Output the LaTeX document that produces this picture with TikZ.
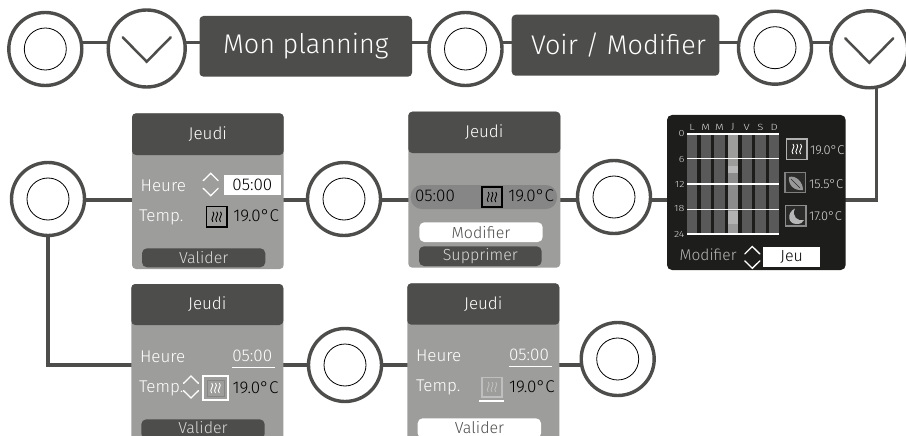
\documentclass[tikz,border=0pt]{standalone}
\usepackage{fontspec}
\setmainfont{Fira Sans Light}
\usetikzlibrary{backgrounds,calc}
\definecolor{dk}{HTML}{4D4D4B}
\definecolor{pn}{HTML}{9D9D9C}
\definecolor{bd}{HTML}{868686}
\definecolor{bk}{HTML}{1D1D1B}
\definecolor{br}{HTML}{595959}
\newcommand{\fs}[1]{\fontsize{#1}{#1}\selectfont}
% box by corners: style, name, x1,y1,x2,y2, text
\newcommand{\cbox}[7]{%
  \pgfmathsetmacro{\cw}{#5-#3}\pgfmathsetmacro{\ch}{#6-#4}%
  \pgfmathsetmacro{\cx}{(#3+#5)/2}\pgfmathsetmacro{\cy}{(#4+#6)/2}%
  \node[#1,minimum width=\cw pt,minimum height=\ch pt] (#2) at (\cx,\cy) {#7};}
\newcommand{\upchev}[3]{\draw[chev,#3] (#1-7.5,#2+3.7) -- (#1,#2-3.7) -- (#1+7.5,#2+3.7);}
\newcommand{\dnchev}[3]{\draw[chev,#3] (#1-7.5,#2-3.7) -- (#1,#2+3.7) -- (#1+7.5,#2-3.7);}
\newcommand{\waves}[3]{\foreach \dx in {-3.8,0,3.8}{\draw[#3,line width=.9pt] (#1+\dx,#2-5) .. controls (#1+\dx+3.4,#2-2) and (#1+\dx-3.4,#2+2) .. (#1+\dx,#2+5);}}
\tikzset{
  x=1pt,y=-1pt,
  every node/.style={inner sep=0pt,outer sep=0pt},
  ring/.style={circle,draw=dk,line width=3.4pt,fill=white,minimum size=73pt},
  ringb/.style={ring,minimum size=77pt},
  rail/.style={draw=dk,line width=3.2pt},
  core/.style={draw=black,line width=.8pt},
  hdr/.style={fill=dk,rounded corners=4pt,text=white},
  panel/.style={fill=pn,rounded corners=4pt},
  blackp/.style={fill=bk,rounded corners=5pt},
  btnd/.style={fill=dk,rounded corners=5pt,text=white!85!black},
  btnw/.style={fill=white,rounded corners=5pt,text=dk},
  wt/.style={text=white,anchor=mid west,yshift=-2.5pt},
  bt/.style={text=black,anchor=mid west,yshift=-2.5pt},
  chev/.style={line width=1.3pt,white,line cap=round,line join=miter},
  icon/.style={draw=black,line width=1.5pt},
  grid/.style={fill=br},
  hline/.style={white,line width=1.3pt},
  tiny/.style={text=white!85!black},
}
\begin{document}
\begin{tikzpicture}
\clip (0,0) rectangle (906,436);
\useasboundingbox (0,0) rectangle (906,436);
% rails
\coordinate (rT) at (0,42.7);
\coordinate (rM) at (0,200);
\coordinate (rB) at (0,365);
% top row
\node[ring] (c1) at (45.3,49) {};
\node[ringb] (c2) at (146.7,48.5) {};
\cbox{hdr,font=\fs{27}}{b1}{199.5}{16}{412}{76.7}{Mon planning}
\node[ring] (c3) at (465.5,49) {};
\cbox{hdr,font=\fs{27}}{b2}{511.7}{14.7}{719.3}{75.7}{\hspace*{6pt}Voir / Modifier}
\node[ring] (c4) at (775,47.7) {};
\node[ringb] (c5) at (869.3,49.3) {};
\draw[core] (c1) circle (21);
\draw[core] (c3) circle (21);
\draw[core] (c4) circle (21);
\draw[dk,line width=2.5pt,line cap=round] (122.7,37.3) -- (146.7,61.7) -- (170.7,37.3);
\draw[dk,line width=2.5pt,line cap=round] (845.3,38.3) -- (869.3,62.7) -- (893.3,38.3);
% middle circles
\node[ring] (c6) at (48,199) {};
\node[ring] (c7) at (344,199) {};
\node[ring] (c8) at (614,197) {};
\draw[core] (c6) circle (21);
\draw[core] (c7) circle (21);
\draw[core] (c8) circle (21);
\node[ring] (c9) at (345,365) {};
\node[ring] (c10) at (617.7,359) {};
\draw[core] (c9) circle (21);
\draw[core] (c10) circle (21);
% panel A
\cbox{panel}{pA}{132}{113.3}{283.7}{269}{}
\cbox{hdr,font=\fs{17}}{hA}{132}{113.3}{283.7}{155}{Jeudi}
\node[wt,font=\fs{17}] (tA1) at (140.7,186) {Heure};
\node[wt,font=\fs{17}] (tA2) at (139,216.7) {Temp.};
\upchev{210.7}{177}{}
\dnchev{210.7}{192}{}
\cbox{fill=white,font=\fs{17}}{vA}{224}{175}{280.7}{195}{05:00}
\cbox{icon}{iA}{206.5}{206.5}{227}{227}{}
\waves{216.7}{216.7}{black}
\node[bt,font=\fs{17}] (dA) at (233.3,216) {19.0°C};
\cbox{btnd,font=\fs{16}}{vlA}{142}{248.3}{265.3}{267.3}{Valider}
% panel B
\cbox{panel}{pB}{408.3}{111.7}{560.3}{267.7}{}
\cbox{hdr,font=\fs{17}}{hB}{408.3}{111.7}{560.3}{153}{Jeudi}
\cbox{fill=bd,rounded corners=11pt}{bandB}{410.7}{185}{557}{209}{}
\node[bt,font=\fs{17}] (tB1) at (415,196.7) {05:00};
\cbox{icon}{iB}{482}{187}{502}{207}{}
\waves{492}{197}{black}
\node[bt,font=\fs{17}] (dB) at (508.3,196.7) {19.0°C};
\cbox{btnw,font=\fs{16}}{mB}{419.3}{222.3}{542.7}{242}{Modifier}
\cbox{btnd,font=\fs{16}}{sB}{419}{246.3}{541.7}{266}{Supprimer}
% panel C
\cbox{panel}{pC}{131.3}{284}{283.3}{445}{}
\cbox{hdr,font=\fs{17}}{hC}{131.3}{284}{283.3}{325}{Jeudi}
\node[wt,font=\fs{17}] (tC1) at (140,357.3) {Heure};
\node[wt,font=\fs{17}] (tC2) at (139,387) {Temp.};
\node[wt,font=\fs{17}] (vC) at (232.3,356) {05:00};
\draw[white,line width=1.5pt] (232,367.7) -- (275,367.7);
\upchev{191}{379.7}{}
\dnchev{191}{394.3}{}
\cbox{draw=white,line width=2pt}{iCo}{203}{376}{227.7}{400}{}
\cbox{draw=bd,line width=1pt}{iC}{207}{380.5}{224}{396}{}
\waves{215.5}{388}{white}
\node[bt,font=\fs{17}] (dC) at (232.7,388) {19.0°C};
\cbox{btnd}{vlC}{141.3}{419.3}{264.7}{439}{}
\node[text=white!85!black,font=\fs{16}] (vtC) at (203,427.3) {Valider};
% panel D
\cbox{panel}{pD}{407.3}{283.3}{559.3}{445}{}
\cbox{hdr,font=\fs{17}}{hD}{407.3}{283.3}{559.3}{324.7}{Jeudi}
\node[wt,font=\fs{17}] (tD1) at (416,356.7) {Heure};
\node[wt,font=\fs{17}] (tD2) at (416,386.7) {Temp.};
\node[wt,font=\fs{17}] (vD) at (509,355) {05:00};
\draw[white,line width=1.5pt] (509,366.7) -- (552,366.7);
\cbox{draw=white!35!pn,line width=1.5pt}{iD}{482}{377.5}{502}{397}{}
\waves{492}{387}{white!35!pn}
\draw[white,line width=1.5pt] (479,401) -- (504,401);
\node[bt,font=\fs{17}] (dD) at (509,387) {19.0°C};
\cbox{btnw}{vlD}{417.7}{418.3}{541}{438.5}{}
\node[text=dk,font=\fs{16}] (vtD) at (479.5,427.3) {Valider};
% black panel
\cbox{blackp}{pK}{667}{115}{845.7}{270}{}
\foreach \c [count=\i from 0] in {L,M,M,J,V,S,D}{
  \pgfmathsetmacro{\xa}{687+13.67*\i}\pgfmathsetmacro{\xb}{\xa+10.2}
  \ifnum\i=3\else\fill[br] (\xa,134) rectangle (\xb,234);\fi
  \pgfmathsetmacro{\xc}{\xa+5.1}
  \node[tiny,font=\fs{9},xscale=1.25] (day\i) at (\xc,127.3) {\c};
}
\fill[pn] (728,134) rectangle (738.2,166);
\fill[white!72!black] (728,166) rectangle (738.2,173.3);
\fill[white!55!black] (728,173.3) rectangle (738.2,211);
\fill[white!70!black] (728,211) rectangle (738.2,224);
\fill[white!60!black] (728,224) rectangle (738.2,234);
\foreach \yy/\h [count=\i] in {134/0,158.7/6,184/12,209.3/18,234/24}{
  \draw[hline] (687,\yy) -- (779,\yy);
}
\foreach \yy/\h [count=\i] in {134.3/0,160/6,184.7/12,209.3/18,235/24}{
  \node[tiny,anchor=mid east,font=\fs{9},xscale=1.2] (hr\i) at (684.5,\yy) {\h};
}
\cbox{draw=white!70!black,fill=bk!70!dk,line width=1.5pt}{k1}{786.7}{139}{807}{159.3}{}
\waves{796.8}{149}{white}
\node[wt,text=white!85!black,font=\fs{12.8}] (d1) at (810,149.3) {19.0°C};
\cbox{draw=white!50!black,fill=bk!70!dk,line width=1.5pt}{k2}{785}{172.7}{805.3}{192.6}{}
\fill[white!60!black] (789,177) .. controls (796,175) and (803,182) .. (803,190) .. controls (795,191) and (788,186) .. (789,177) -- cycle;
\draw[bk!70!dk,line width=.6pt] (791,179) -- (800,188);
\node[wt,text=white!85!black,font=\fs{12.8}] (d2) at (809,183.3) {15.5°C};
\cbox{draw=white!55!black,fill=bk!70!dk,line width=1.5pt}{k3}{785.7}{205.7}{806}{226}{}
\fill[white!72!black,even odd rule] (795,208.5) .. controls (786,213) and (788,224.5) .. (797,224) .. controls (800.5,224) and (803,222.5) .. (804,220) .. controls (798,222) and (791,216) .. (795,208.5) -- cycle;
\node[wt,text=white!85!black,font=\fs{12.8}] (d3) at (809,215) {17.0°C};
\node[anchor=mid west,text=white!72!black,font=\fs{15.5},yshift=-2pt] (mK) at (679.7,256) {Modifier};
\upchev{752.3}{250.2}{}
\dnchev{752.3}{264.6}{}
\cbox{fill=white,font=\fs{16}}{jK}{763.3}{247.3}{820}{266.7}{Jeu}
% connectors
\begin{pgfonlayer}{background}
\draw[rail] (c1 |- rT) -- (c2 |- rT);
\draw[rail] (c2 |- rT) -- (b1 |- rT);
\draw[rail] (b1 |- rT) -- (c3 |- rT);
\draw[rail] (c3 |- rT) -- (b2 |- rT);
\draw[rail] (b2 |- rT) -- (c4 |- rT);
\draw[rail] (c4 |- rT) -- (c5 |- rT);
\coordinate (drop) at (876.5,70);
\coordinate (turn) at (876.5,200);
\draw[rail] (drop) -- (turn) -- (pK |- turn);
\draw[rail] (c6 |- rM) -- (pA |- rM);
\draw[rail] (pA |- rM) -- (c7 |- rM);
\draw[rail] (c7 |- rM) -- (pB |- rM);
\draw[rail] (pB |- rM) -- (c8 |- rM);
\draw[rail] (c8 |- rM) -- (pK |- rM);
\coordinate (elbow) at (49,365);
\draw[rail] (c6) -- (c6 |- elbow) -- (pC |- elbow);
\draw[rail] (pC |- rB) -- (c9 |- rB);
\draw[rail] (c9 |- rB) -- (pD |- rB);
\draw[rail] (pD |- rB) -- (c10 |- rB);
\end{pgfonlayer}
\end{tikzpicture}
\end{document}
